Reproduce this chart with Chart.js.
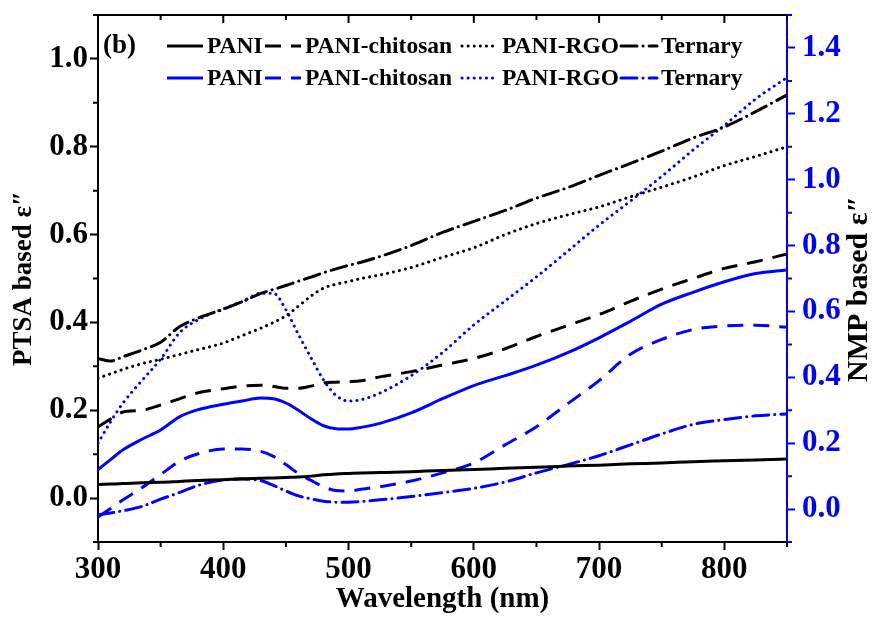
<!DOCTYPE html>
<html>
<head>
<meta charset="utf-8">
<script src="https://cdn.jsdelivr.net/npm/chart.js@4.4.1/dist/chart.umd.min.js"></script>
<style>
  html, body { margin: 0; padding: 0; background: #fff; }
  #wrap { width: 877px; height: 617px; position: relative; }
</style>
</head>
<body>
<div id="wrap"><canvas id="c" width="877" height="617"></canvas></div>
<script>
// ---------- data ----------
const wavelengths = [300, 310, 320, 335, 350, 365, 380, 400, 415, 430, 440, 450, 460, 470, 480, 490, 500, 510, 525, 550, 575, 600, 625, 650, 675, 700, 725, 750, 775, 800, 825, 850];

// PTSA based (left axis, black)
const ptsaPani     = [0.031, 0.032, 0.033, 0.035, 0.036, 0.038, 0.040, 0.042, 0.044, 0.045, 0.046, 0.047, 0.048, 0.050, 0.053, 0.055, 0.056, 0.057, 0.058, 0.060, 0.063, 0.065, 0.068, 0.070, 0.073, 0.075, 0.078, 0.080, 0.083, 0.085, 0.087, 0.089];
const ptsaChitosan = [0.162, 0.180, 0.196, 0.200, 0.212, 0.226, 0.240, 0.249, 0.255, 0.257, 0.254, 0.250, 0.250, 0.255, 0.262, 0.264, 0.265, 0.267, 0.276, 0.288, 0.303, 0.318, 0.340, 0.368, 0.393, 0.418, 0.448, 0.476, 0.500, 0.523, 0.538, 0.556];
const ptsaRgo      = [0.273, 0.283, 0.293, 0.306, 0.316, 0.327, 0.338, 0.353, 0.370, 0.387, 0.400, 0.415, 0.437, 0.460, 0.478, 0.487, 0.493, 0.500, 0.508, 0.525, 0.548, 0.570, 0.600, 0.625, 0.645, 0.663, 0.686, 0.708, 0.731, 0.757, 0.778, 0.800];
const ptsaTernary  = [0.318, 0.312, 0.322, 0.337, 0.355, 0.390, 0.410, 0.430, 0.447, 0.466, 0.475, 0.484, 0.494, 0.503, 0.513, 0.522, 0.530, 0.537, 0.550, 0.575, 0.605, 0.630, 0.655, 0.683, 0.707, 0.735, 0.762, 0.790, 0.820, 0.845, 0.880, 0.918];

// NMP based (right axis, blue)
const nmpPani      = [0.120, 0.150, 0.180, 0.212, 0.240, 0.280, 0.302, 0.318, 0.328, 0.337, 0.335, 0.322, 0.300, 0.274, 0.253, 0.244, 0.243, 0.248, 0.260, 0.292, 0.335, 0.375, 0.405, 0.437, 0.475, 0.520, 0.570, 0.622, 0.658, 0.690, 0.715, 0.726];
const nmpChitosan  = [-0.024, 0.002, 0.028, 0.065, 0.105, 0.145, 0.168, 0.182, 0.182, 0.175, 0.160, 0.135, 0.108, 0.087, 0.068, 0.056, 0.055, 0.060, 0.068, 0.085, 0.110, 0.140, 0.195, 0.250, 0.320, 0.390, 0.470, 0.515, 0.545, 0.556, 0.558, 0.552];
const nmpRgo       = [0.200, 0.265, 0.322, 0.390, 0.455, 0.535, 0.575, 0.608, 0.630, 0.655, 0.655, 0.605, 0.530, 0.460, 0.392, 0.345, 0.328, 0.332, 0.352, 0.405, 0.475, 0.559, 0.632, 0.705, 0.783, 0.862, 0.935, 1.010, 1.090, 1.165, 1.245, 1.310];
const nmpTernary   = [-0.018, -0.012, -0.005, 0.008, 0.030, 0.050, 0.072, 0.088, 0.091, 0.086, 0.072, 0.055, 0.040, 0.031, 0.024, 0.021, 0.021, 0.023, 0.028, 0.038, 0.050, 0.063, 0.082, 0.110, 0.135, 0.162, 0.195, 0.228, 0.257, 0.272, 0.283, 0.289];

const seriesLabels = ['PANI', 'PANI-chitosan', 'PANI-RGO', 'Ternary'];
const xTicks = [300, 400, 500, 600, 700, 800];
const xMinorTicks = [350, 450, 550, 650, 750, 850];
const leftTicks = [0.0, 0.2, 0.4, 0.6, 0.8, 1.0];
const leftMinorTicks = [-0.1, 0.1, 0.3, 0.5, 0.7, 0.9, 1.1];
const rightTicks = [0.0, 0.2, 0.4, 0.6, 0.8, 1.0, 1.2, 1.4];
const rightMinorTicks = [-0.1, 0.1, 0.3, 0.5, 0.7, 0.9, 1.1, 1.3, 1.5];

// ---------- styles ----------
const FONT = "'Liberation Serif', 'Times New Roman', serif";
const BLUE = '#0000FF';
const dashStyles = [[], [16, 10], [0.1, 6], [16, 6, 0.1, 6]];
const capStyles = ['butt', 'butt', 'round', 'round'];

const pts = arr => wavelengths.map((w, i) => ({ x: w, y: arr[i] }));
function ds(label, arr, color, axis, k) {
  return {
    label, data: pts(arr), borderColor: color, backgroundColor: color,
    yAxisID: axis, borderWidth: 3, borderDash: dashStyles[k], borderCapStyle: capStyles[k],
    pointRadius: 0, tension: 0.4, cubicInterpolationMode: 'monotone', fill: false
  };
}
const datasets = [
  ds(seriesLabels[0], ptsaPani, '#000', 'y', 0),
  ds(seriesLabels[1], ptsaChitosan, '#000', 'y', 1),
  ds(seriesLabels[2], ptsaRgo, '#000', 'y', 2),
  ds(seriesLabels[3], ptsaTernary, '#000', 'y', 3),
  ds(seriesLabels[0], nmpPani, BLUE, 'y1', 0),
  ds(seriesLabels[1], nmpChitosan, BLUE, 'y1', 1),
  ds(seriesLabels[2], nmpRgo, BLUE, 'y1', 2),
  ds(seriesLabels[3], nmpTernary, BLUE, 'y1', 3)
];

// ---------- plugin: minor ticks, top frame, legend, extra labels ----------
const decorPlugin = {
  id: 'decor',
  afterDraw(chart) {
    const { ctx, chartArea: a, scales } = chart;
    ctx.save();
    ctx.lineWidth = 2;
    ctx.strokeStyle = '#000';
    ctx.beginPath(); ctx.moveTo(a.left, a.top); ctx.lineTo(a.right, a.top); ctx.stroke();
    ctx.beginPath();
    xMinorTicks.forEach(v => {
      const x = scales.x.getPixelForValue(v);
      ctx.moveTo(x, a.bottom); ctx.lineTo(x, a.bottom + 5);
      ctx.moveTo(x, a.top); ctx.lineTo(x, a.top + 5);
    });
    xTicks.forEach(v => {
      const x = scales.x.getPixelForValue(v);
      ctx.moveTo(x, a.top); ctx.lineTo(x, a.top + 8);
    });
    leftMinorTicks.forEach(v => {
      const y = scales.y.getPixelForValue(v);
      ctx.moveTo(a.left, y); ctx.lineTo(a.left - 5, y);
    });
    ctx.stroke();
    ctx.strokeStyle = BLUE;
    ctx.beginPath();
    rightMinorTicks.forEach(v => {
      const y = scales.y1.getPixelForValue(v);
      ctx.moveTo(a.right, y); ctx.lineTo(a.right + 5, y);
    });
    ctx.stroke();

    // panel label
    ctx.fillStyle = '#000';
    ctx.font = 'bold 27px ' + FONT;
    ctx.textBaseline = 'middle';
    ctx.textAlign = 'left';
    ctx.fillText('(b)', 103, 46);

    // legend (two rows)
    const sampleX = [167, 265, 462, 621];
    const rowY = [46, 78];
    ctx.font = 'bold 23.5px ' + FONT;
    chart.data.datasets.forEach((d, i) => {
      const row = i < 4 ? 0 : 1, k = i % 4;
      const y = rowY[row], x0 = sampleX[k];
      ctx.save();
      ctx.strokeStyle = d.borderColor;
      ctx.lineWidth = 3;
      ctx.lineCap = d.borderCapStyle;
      ctx.setLineDash(d.borderDash);
      ctx.beginPath(); ctx.moveTo(x0, y); ctx.lineTo(x0 + 36, y); ctx.stroke();
      ctx.restore();
      ctx.fillStyle = '#000';
      ctx.fillText(d.label, x0 + 40, y + 1);
    });

    // right axis title (reads bottom-to-top)
    ctx.save();
    ctx.font = 'bold 30px ' + FONT;
    ctx.fillStyle = '#000';
    ctx.textAlign = 'center';
    ctx.textBaseline = 'middle';
    ctx.translate(859, 289);
    ctx.rotate(-Math.PI / 2);
    ctx.fillText('NMP based ε″', 0, 0);
    ctx.restore();
    ctx.restore();
  }
};

const tickFont = { family: FONT, size: 31, weight: 'bold' };
const noPad = s => { s.paddingTop = 0; s.paddingBottom = 0; s.paddingLeft = 0; s.paddingRight = 0; };

new Chart(document.getElementById('c'), {
  type: 'line',
  data: { datasets },
  plugins: [decorPlugin],
  options: {
    responsive: false,
    animation: false,
    events: [],
    layout: { padding: { top: 15, left: 0, right: 0, bottom: 0 } },
    plugins: { legend: { display: false }, tooltip: { enabled: false }, title: { display: false } },
    scales: {
      x: {
        type: 'linear', min: 300, max: 850,
        afterBuildTicks: s => { s.ticks = xTicks.map(v => ({ value: v })); },
        afterFit: s => { s.height = 75; noPad(s); },
        ticks: { font: tickFont, color: '#000', padding: 1, maxRotation: 0, autoSkip: false },
        grid: { drawOnChartArea: false, drawTicks: true, tickLength: 8, tickWidth: 2, tickColor: '#000' },
        border: { display: true, color: '#000', width: 2 },
        title: { display: true, text: 'Wavelength (nm)', font: { family: FONT, size: 29, weight: 'bold' }, color: '#000', padding: { top: 0, bottom: 0 } }
      },
      y: {
        type: 'linear', position: 'left', min: -0.1, max: 1.1,
        afterBuildTicks: s => { s.ticks = leftTicks.map(v => ({ value: v })); },
        afterFit: s => { s.width = 98; noPad(s); },
        ticks: { font: tickFont, color: '#000', padding: 2, autoSkip: false, callback: v => v.toFixed(1) },
        grid: { drawOnChartArea: false, drawTicks: true, tickLength: 8, tickWidth: 2, tickColor: '#000' },
        border: { display: true, color: '#000', width: 2 },
        title: { display: true, text: 'PTSA based ε″', font: { family: FONT, size: 27, weight: 'bold' }, color: '#000', padding: { top: 8, bottom: 0 } }
      },
      y1: {
        type: 'linear', position: 'right', min: -0.1, max: 1.5,
        afterBuildTicks: s => { s.ticks = rightTicks.map(v => ({ value: v })); },
        afterFit: s => { s.width = 90; noPad(s); },
        ticks: { font: tickFont, color: BLUE, padding: 7, autoSkip: false, callback: v => v.toFixed(1) },
        grid: { drawOnChartArea: false, drawTicks: true, tickLength: 8, tickWidth: 2, tickColor: BLUE },
        border: { display: true, color: BLUE, width: 2 },
        title: { display: false }
      }
    }
  }
});
</script>
</body>
</html>
